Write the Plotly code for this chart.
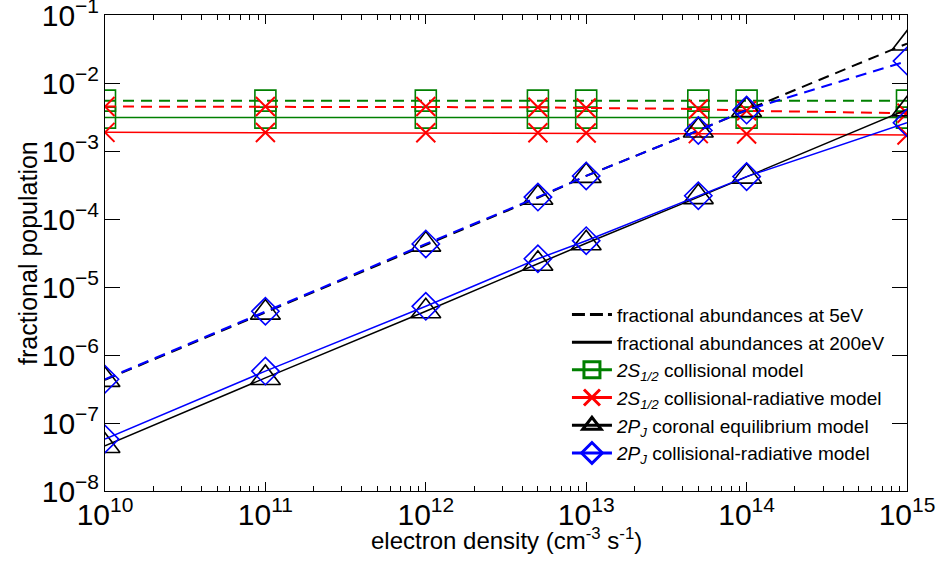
import plotly.graph_objects as go

# ---- data ----
density = [1e10, 1e11, 1e12, 5e12, 1e13, 5e13, 1e14, 1e15]

s_coll_5eV = [5.5e-3, 5.5e-3, 5.5e-3, 5.5e-3, 5.5e-3, 5.5e-3, 5.5e-3, 5.5e-3]
s_coll_200eV = [3.1e-3, 3.1e-3, 3.1e-3, 3.1e-3, 3.1e-3, 3.1e-3, 3.1e-3, 3.1e-3]
s_cr_5eV = [4.5e-3, 4.5e-3, 4.5e-3, 4.4e-3, 4.3e-3, 4.15e-3, 3.9e-3, 3.6e-3]
s_cr_200eV = [1.88e-3, 1.87e-3, 1.86e-3, 1.85e-3, 1.84e-3, 1.80e-3, 1.78e-3, 1.72e-3]
p_ce_5eV = [4.3e-7, 4.2e-6, 4.2e-5, 2.05e-4, 4.3e-4, 2.0e-3, 4.0e-3, 3.8e-2]
p_ce_200eV = [4.6e-8, 4.6e-7, 4.4e-6, 2.2e-5, 4.4e-5, 2.1e-4, 4.2e-4, 4.1e-3]
p_cr_5eV = [4.4e-7, 4.4e-6, 4.3e-5, 2.1e-4, 4.3e-4, 2.0e-3, 4.0e-3, 2.1e-2]
p_cr_200eV = [5.8e-8, 5.8e-7, 5.2e-6, 2.6e-5, 4.8e-5, 2.2e-4, 4.2e-4, 2.6e-3]

legend_labels = [
    "fractional abundances at 5eV",
    "fractional abundances at 200eV",
    "<i>2S<sub>1/2</sub></i> collisional model",
    "<i>2S<sub>1/2</sub></i> collisional-radiative model",
    "<i>2P<sub>J</sub></i> coronal equilibrium model",
    "<i>2P<sub>J</sub></i> collisional-radiative model",
]
x_title = "electron density (cm<sup>-3</sup> s<sup>-1</sup>)"
y_title = "fractional population"

GREEN = "#008000"
RED = "#ff0000"
BLACK = "#000000"
BLUE = "#0000ff"
DASH = "11px,7px"
FONT = "Liberation Sans, Arial, sans-serif"

models = [
    (s_coll_5eV, s_coll_200eV, GREEN, "square-open", 21, 1.6),
    (s_cr_5eV, s_cr_200eV, RED, "x-thin-open", 19, 2.0),
    (p_ce_5eV, p_ce_200eV, BLACK, "triangle-up-open", 26, 1.6),
    (p_cr_5eV, p_cr_200eV, BLUE, "diamond-open", 21, 1.6),
]

fig = go.Figure()

for y5, y200, col, sym, size, mlw in models:
    for yy, dash, lw in ((y5, DASH, 2.0), (y200, "solid", 1.5)):
        fig.add_trace(go.Scatter(
            x=density, y=yy, mode="lines+markers",
            line=dict(color=col, width=lw, dash=dash),
            marker=dict(symbol=sym, size=size, color=col,
                        line=dict(color=col, width=mlw)),
            showlegend=False, hoverinfo="x+y",
        ))

# legend entries
fig.add_trace(go.Scatter(x=[None], y=[None], mode="lines", name=legend_labels[0],
                         line=dict(color=BLACK, width=3, dash="13px,5px"),
                         legendgroup="a", legendrank=1))
fig.add_trace(go.Scatter(x=[None], y=[None], mode="lines", name=legend_labels[1],
                         line=dict(color=BLACK, width=3),
                         legendgroup="b", legendrank=2))
for i, (y5, y200, col, sym, size, mlw) in enumerate(models):
    fig.add_trace(go.Scatter(x=[None], y=[None], mode="lines+markers",
                             name=legend_labels[i + 2],
                             line=dict(color=col, width=3),
                             marker=dict(symbol=sym, size=size, color=col,
                                         line=dict(color=col, width=3)),
                             legendgroup="g%d" % i, legendrank=3 + i))

axis_common = dict(
    type="log", showgrid=False, zeroline=False, automargin=False,
    showline=True, linecolor="black", linewidth=1.3, mirror="ticks",
    ticks="inside", tickcolor="black", tickwidth=1, dtick=1,
    exponentformat="power", ticklabeloverflow="allow",
    tickfont=dict(family=FONT, size=24, color="black"),
)

fig.update_xaxes(axis_common, range=[10, 15], ticklen=9, ticklabelstandoff=-2,
                 minor=dict(ticks="inside", ticklen=5, tickcolor="black", dtick="D1"))
fig.update_yaxes(axis_common, range=[-8, -1], ticklen=15)

fig.add_annotation(text=x_title, xref="paper", yref="paper", x=0.5, y=0,
                   xanchor="center", yanchor="top", yshift=-31, showarrow=False,
                   font=dict(family=FONT, size=24, color="black"))
fig.add_annotation(text=y_title, xref="paper", yref="paper", x=0, y=0.5,
                   xanchor="center", yanchor="middle", xshift=-77, textangle=-90,
                   showarrow=False, font=dict(family=FONT, size=25, color="black"))

fig.update_layout(
    width=936, height=561,
    margin=dict(l=105, r=29, t=15, b=70),
    plot_bgcolor="white", paper_bgcolor="white",
    font=dict(family=FONT, color="black"),
    legend=dict(x=0.576, y=0.4105, xanchor="left", yanchor="top",
                bgcolor="rgba(0,0,0,0)", font=dict(family=FONT, size=19, color="black"),
                traceorder="grouped", tracegroupgap=0, itemwidth=40),
)

# remove the default page margin so the 936x561 figure fills the window exactly
fig.write_html("out.html", config={"displayModeBar": False},
               post_script="document.body.style.margin='0';")
